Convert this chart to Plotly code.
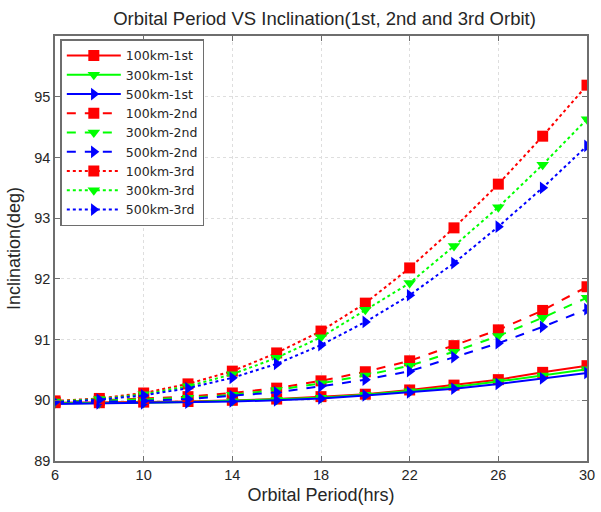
import plotly.graph_objects as go

period = [6, 8, 10, 12, 14, 16, 18, 20, 22, 24, 26, 28, 30]

inc_100_1st = [89.96, 89.96, 89.97, 89.98, 90.0, 90.02, 90.06, 90.1, 90.17, 90.25, 90.34, 90.46, 90.57]
inc_300_1st = [89.95, 89.95, 89.96, 89.97, 89.99, 90.01, 90.04, 90.09, 90.15, 90.22, 90.31, 90.41, 90.51]
inc_500_1st = [89.94, 89.95, 89.95, 89.96, 89.98, 90.0, 90.03, 90.08, 90.13, 90.19, 90.27, 90.36, 90.45]

inc_100_2nd = [89.97, 90.0, 90.03, 90.06, 90.12, 90.2, 90.32, 90.47, 90.65, 90.9, 91.16, 91.48, 91.87]
inc_300_2nd = [89.97, 89.99, 90.01, 90.04, 90.09, 90.17, 90.28, 90.41, 90.57, 90.8, 91.06, 91.36, 91.69]
inc_500_2nd = [89.96, 89.97, 89.99, 90.02, 90.07, 90.13, 90.23, 90.34, 90.48, 90.71, 90.94, 91.21, 91.5]

inc_100_3rd = [89.99, 90.03, 90.12, 90.27, 90.48, 90.78, 91.14, 91.6, 92.18, 92.84, 93.56, 94.35, 95.19]
inc_300_3rd = [89.98, 90.02, 90.1, 90.23, 90.43, 90.7, 91.04, 91.49, 91.93, 92.54, 93.18, 93.88, 94.63]
inc_500_3rd = [89.97, 90.01, 90.08, 90.2, 90.37, 90.6, 90.91, 91.29, 91.73, 92.26, 92.86, 93.5, 94.19]

x_ticks = [6, 10, 14, 18, 22, 26, 30]
y_ticks = [89, 90, 91, 92, 93, 94, 95]

series = [
    ("100km-1st", inc_100_1st, "#FF0000", "square", "solid"),
    ("300km-1st", inc_300_1st, "#00FF00", "triangle-down", "solid"),
    ("500km-1st", inc_500_1st, "#0000FF", "triangle-right", "solid"),
    ("100km-2nd", inc_100_2nd, "#FF0000", "square", "dash"),
    ("300km-2nd", inc_300_2nd, "#00FF00", "triangle-down", "dash"),
    ("500km-2nd", inc_500_2nd, "#0000FF", "triangle-right", "dash"),
    ("100km-3rd", inc_100_3rd, "#FF0000", "square", "dot"),
    ("300km-3rd", inc_300_3rd, "#00FF00", "triangle-down", "dot"),
    ("500km-3rd", inc_500_3rd, "#0000FF", "triangle-right", "dot"),
]

fig = go.Figure()
for name, vals, color, sym, dash in series:
    fig.add_trace(go.Scatter(
        x=period, y=vals, name=name, mode="lines+markers",
        line=dict(color=color, width=2, dash=dash),
        marker=dict(color=color, symbol=sym, size=11, line=dict(width=0)),
    ))

font = "Liberation Sans, Arial, sans-serif"
txt = "#262626"
axcol = "#6e6e6e"
axis_common = dict(
    showline=True, linecolor=axcol, linewidth=1.5, mirror="ticks",
    ticks="inside", ticklen=5, tickcolor=axcol,
    showgrid=True, gridcolor="#dedede", griddash="dot", gridwidth=1,
    zeroline=False, tickfont=dict(family=font, size=14.5, color=txt),
    ticklabeloverflow="allow",
)

fig.update_layout(
    width=601, height=512,
    margin=dict(l=55, r=6, t=36, b=51),
    paper_bgcolor="white", plot_bgcolor="white",
    title=dict(text="Orbital Period VS Inclination(1st, 2nd and 3rd Orbit)",
               x=0.54, xanchor="center", y=1 - 19 / 512, yanchor="middle",
               font=dict(family=font, size=18.5, color=txt)),
    xaxis=dict(range=[6, 30], tickvals=x_ticks, ticktext=[str(v) for v in x_ticks],
               title=dict(text="Orbital Period(hrs)", standoff=6,
                          font=dict(family=font, size=18, color=txt)),
               **axis_common),
    yaxis=dict(range=[89, 96], tickvals=y_ticks, ticktext=[str(v) for v in y_ticks],
               title=dict(text="Inclination(deg)", standoff=9,
                          font=dict(family=font, size=18, color=txt)),
               **axis_common),
    legend=dict(x=0.01, y=0.992, xanchor="left", yanchor="top",
                bgcolor="white", bordercolor=axcol, borderwidth=1.5,
                font=dict(family="DejaVu Sans, sans-serif", size=12.5, color=txt),
                itemwidth=54, tracegroupgap=0),
    showlegend=True,
)

fig.write_html("out.html")
